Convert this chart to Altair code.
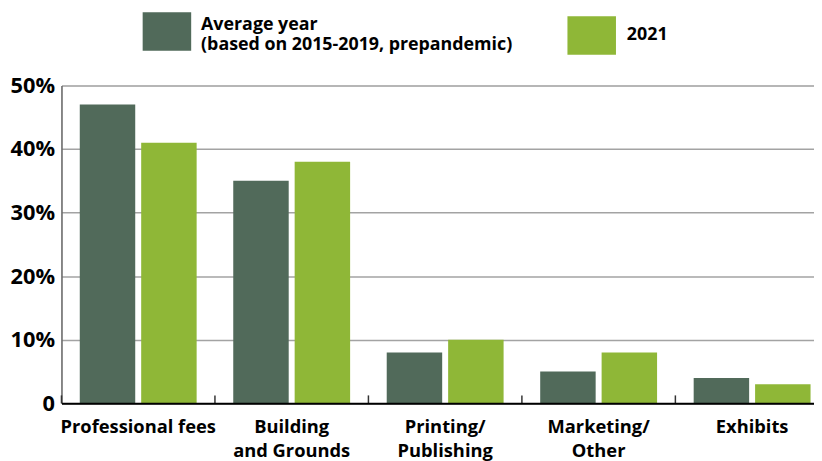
import altair as alt
import pandas as pd

categories = ["Professional fees", "Building|and Grounds", "Printing/|Publishing", "Marketing/|Other", "Exhibits"]
series = ["Average year", "2021"]
avg_values = [47, 35, 8, 5, 4]
y2021_values = [41, 38, 10, 8, 3]
y_ticks = [0, 10, 20, 30, 40, 50]
colors = ["#516a5a", "#8fb737"]
legend_avg_lines = ["Average year", "(based on 2015-2019, prepandemic)"]
legend_2021_lines = ["2021"]

rows = []
for c, a, b in zip(categories, avg_values, y2021_values):
    rows.append({"cat": c, "series": series[0], "value": a})
    rows.append({"cat": c, "series": series[1], "value": b})
df = pd.DataFrame(rows)
cats_df = pd.DataFrame({"cat": categories})

FONT = "Open Sans"
W, H = 775, 321

xscale = alt.Scale(domain=categories, paddingInner=0, paddingOuter=0)

bars = alt.Chart(df).mark_bar().encode(
    x=alt.X("cat:N", sort=categories, scale=xscale, title=None,
            axis=alt.Axis(labelExpr="split(datum.label, '|')", labelAngle=0,
                          labelFont=FONT, labelFontSize=18.5, labelFontWeight="bold",
                          labelColor="black", labelBaseline="top", labelPadding=14,
                          labelLineHeight=25, ticks=False, domainColor="black",
                          domainWidth=2, labelLimit=0, zindex=1)),
    xOffset=alt.XOffset("series:N", sort=series,
                        scale=alt.Scale(domain=series, paddingInner=0.097, paddingOuter=0.298)),
    y=alt.Y("value:Q", scale=alt.Scale(domain=[0, 50], nice=False), title=None,
            axis=alt.Axis(values=y_ticks, labelExpr="datum.value == 0 ? '0' : datum.value + '%'",
                          labelFont=FONT, labelFontSize=22, labelFontWeight="bold",
                          labelColor="black", labelPadding=7, ticks=False,
                          grid=True, gridColor="#a3a3a3", gridWidth=1.5,
                          domainColor="#666666", domainWidth=1.5)),
    color=alt.Color("series:N", scale=alt.Scale(domain=series, range=colors), legend=None),
)

ticks = alt.Chart(cats_df).mark_rule(color="#333333", strokeWidth=1.5).encode(
    x=alt.X("cat:N", sort=categories, scale=xscale, bandPosition=0),
    y=alt.value(H - 8),
    y2=alt.value(H),
)

one = pd.DataFrame({"k": [0]})
leg_rect1 = alt.Chart(one).mark_rect(color=colors[0]).encode(
    x=alt.value(82), x2=alt.value(131), y=alt.value(-74), y2=alt.value(-35))
leg_rect2 = alt.Chart(one).mark_rect(color=colors[1]).encode(
    x=alt.value(511), x2=alt.value(560), y=alt.value(-70), y2=alt.value(-31))
leg_text1 = alt.Chart(one).mark_text(
    align="left", baseline="alphabetic", font=FONT, fontSize=18, fontWeight="bold",
    color="black", lineHeight=20).encode(
    x=alt.value(141), y=alt.value(-56), text=alt.value(legend_avg_lines))
leg_text2 = alt.Chart(one).mark_text(
    align="left", baseline="alphabetic", font=FONT, fontSize=18, fontWeight="bold",
    color="black").encode(
    x=alt.value(571), y=alt.value(-46), text=alt.value(legend_2021_lines[0]))

# the last band runs past the right edge of the page, as in the reference
chart = alt.layer(bars, ticks, leg_rect1, leg_rect2, leg_text1, leg_text2).properties(
    width=W, height=H,
    autosize=alt.AutoSizeParams(type="none"),
    padding={"left": 54, "top": 76, "right": -15, "bottom": 56},
).configure_view(stroke=None).configure(background="white")

chart.save("out.html", embed_options={"renderer": "svg", "actions": False})
